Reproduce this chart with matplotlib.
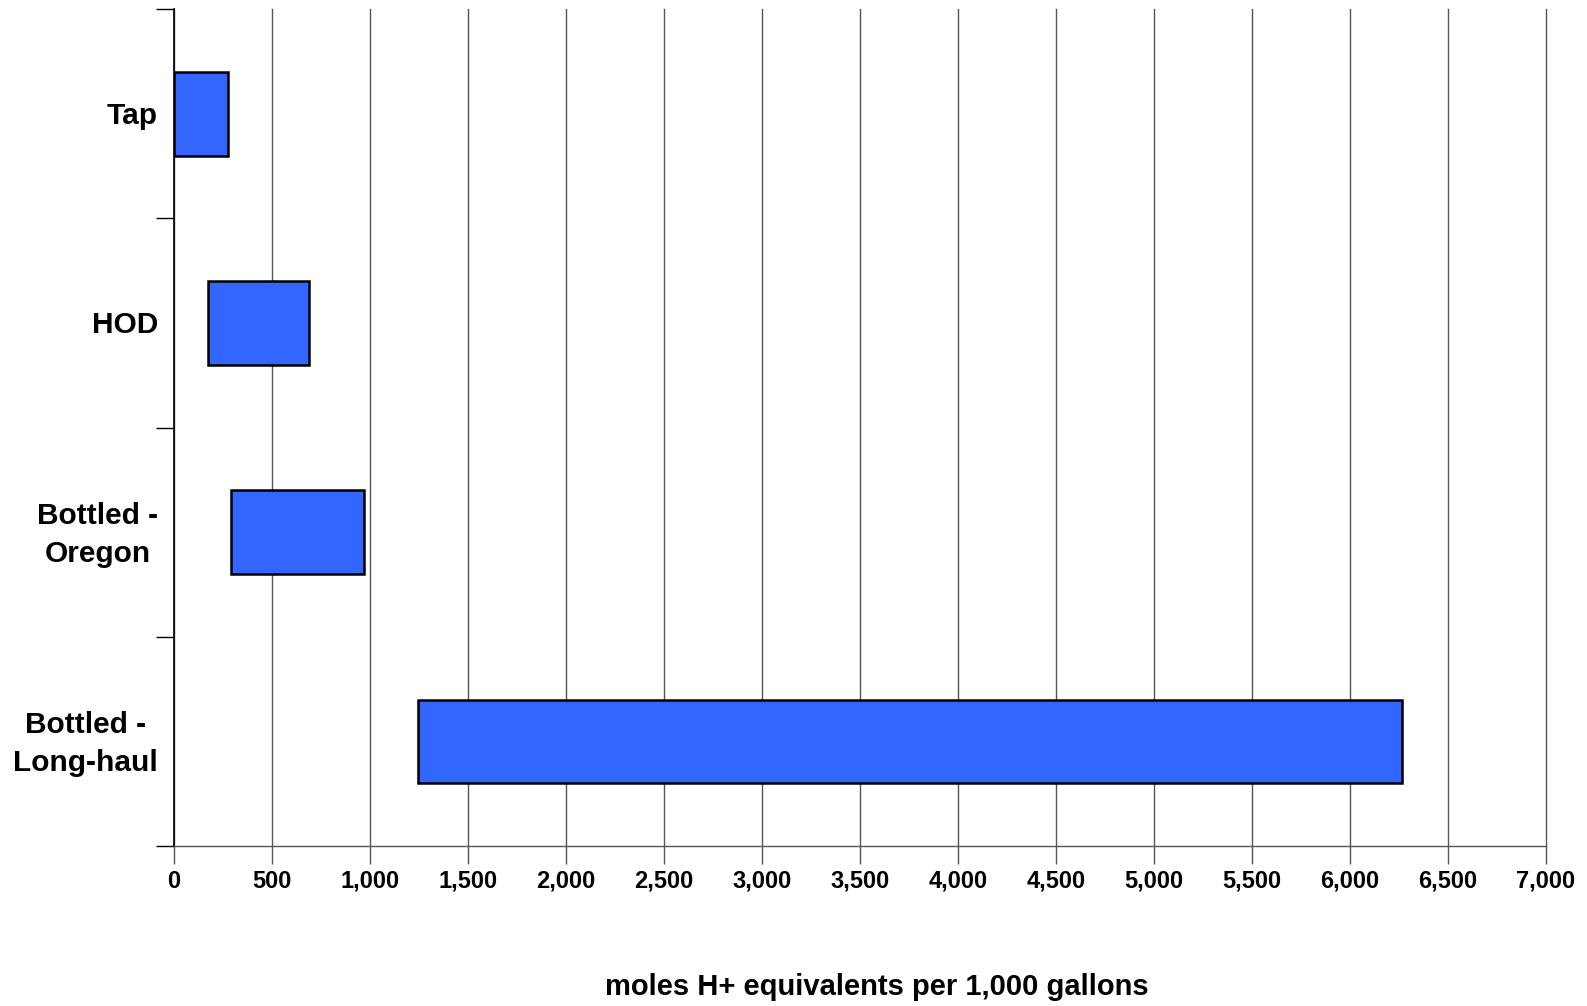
import matplotlib
matplotlib.use("Agg")
import matplotlib.pyplot as plt
import matplotlib.transforms as mtransforms
import numpy as np

categories = ["Tap", "HOD", "Bottled -\nOregon", "Bottled -\nLong-haul"]
range_low = [0, 173, 291, 1245]
range_high = [275, 689, 969, 6265]
x_ticks = list(range(0, 7001, 500))
x_label = "moles H+ equivalents per 1,000 gallons"

plt.rcParams["font.family"] = ["Liberation Sans", "DejaVu Sans"]
plt.rcParams["font.weight"] = "bold"

fig = plt.figure(figsize=(15.87, 10.06), dpi=100)
ax = fig.add_axes([0.1096, 0.159, 0.8646, 0.832])

y = np.arange(len(categories))
widths = [h - l for l, h in zip(range_low, range_high)]
ax.barh(y, widths, left=range_low, height=0.4, color="#3366FF",
        edgecolor="black", linewidth=1.8, zorder=3)

ax.set_xlim(0, 7000)
ax.set_ylim(len(categories) - 0.5, -0.5)

ax.set_xticks(x_ticks)
ax.set_xticklabels([f"{v:,}" for v in x_ticks], fontsize=17, fontweight="bold")
ax.xaxis.grid(True, color="#555555", linewidth=1.0, zorder=0)
for gl in ax.get_xgridlines():
    gl.set_clip_on(False)
ax.tick_params(axis="x", length=13, width=1.0, color="#555555", pad=4)

# Category boundaries carry the tick marks; names sit between them
ax.set_yticks(np.arange(-0.5, len(categories), 1.0))
ax.set_yticklabels([])
ax.tick_params(axis="y", which="major", length=13, width=1.0, color="black")

label_tf = mtransforms.blended_transform_factory(ax.transAxes, ax.transData) + \
    mtransforms.ScaledTranslation(-16 / 100, -2.5 / 100, fig.dpi_scale_trans)
for yi, name in zip(y, categories):
    ax.text(0, yi, name, transform=label_tf, ha="right", va="center",
            multialignment="center", linespacing=1.45,
            fontsize=21.5, fontweight="bold")

for s in ("top", "right"):
    ax.spines[s].set_visible(False)
ax.spines["left"].set_color("black")
ax.spines["left"].set_linewidth(1.2)
ax.spines["bottom"].set_color("#555555")
ax.spines["bottom"].set_linewidth(1.0)

ax.set_xlabel(x_label, fontsize=21, fontweight="bold", labelpad=58)
ax.xaxis.label.set_x(0.512)

fig.savefig("out.png", dpi=100)
